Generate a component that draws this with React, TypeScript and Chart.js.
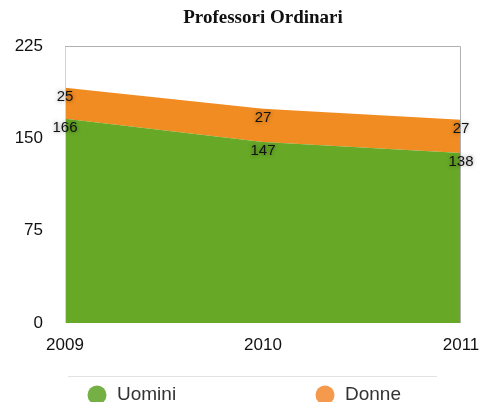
import React, { useEffect, useRef } from "react";
import { Chart, registerables } from "chart.js";
Chart.register(...registerables);

const title = "Professori Ordinari";
const categories = ["2009", "2010", "2011"];
const uomini = [166, 147, 138];
const donne = [25, 27, 27];
const seriesNames = ["Uomini", "Donne"];
const fillColors = ["#67a827", "#f18c22"];
const legendColors = ["#74b043", "#f59a4c"];
const yMin = 0;
const yMax = 225;
const yStep = 75;

const SANS = "'Liberation Sans', Arial, Helvetica, sans-serif";

const boxPlugin = {
  id: "boxPlugin",
  afterDatasetsDraw(chart: any) {
    const { ctx, chartArea: a } = chart;
    ctx.save();
    ctx.strokeStyle = "#d4d4d4";
    ctx.lineWidth = 1;
    ctx.beginPath();
    ctx.moveTo(a.left + 0.5, a.bottom);
    ctx.lineTo(a.left + 0.5, a.top + 0.5);
    ctx.stroke();
    ctx.strokeStyle = "#b0b0b0";
    ctx.beginPath();
    ctx.moveTo(a.left, a.top + 0.5);
    ctx.lineTo(a.right - 0.5, a.top + 0.5);
    ctx.lineTo(a.right - 0.5, a.bottom);
    ctx.stroke();
    ctx.restore();
  },
};

const labelPlugin = {
  id: "labelPlugin",
  afterDatasetsDraw(chart: any) {
    const { ctx } = chart;
    ctx.save();
    ctx.font = `15px ${SANS}`;
    ctx.textAlign = "center";
    ctx.textBaseline = "middle";
    chart.data.datasets.forEach((ds: any, di: number) => {
      const meta = chart.getDatasetMeta(di);
      meta.data.forEach((pt: any, i: number) => {
        ctx.shadowColor = "rgba(0,0,0,0.45)";
        ctx.shadowBlur = 4;
        ctx.fillStyle = "#111";
        ctx.fillText(String(ds.data[i]), pt.x, pt.y + 9);
      });
    });
    ctx.restore();
  },
};

const titlePlugin = {
  id: "titlePlugin",
  afterDraw(chart: any) {
    const { ctx, chartArea: a } = chart;
    ctx.save();
    ctx.font = `bold 19px 'Liberation Serif', 'Times New Roman', serif`;
    ctx.fillStyle = "#111";
    ctx.textAlign = "center";
    ctx.textBaseline = "middle";
    ctx.fillText(title, (a.left + a.right) / 2, 18);
    ctx.restore();
  },
};

const legendPlugin = {
  id: "legendPlugin",
  afterDraw(chart: any) {
    const { ctx } = chart;
    ctx.save();
    ctx.strokeStyle = "#e2e2e2";
    ctx.lineWidth = 1;
    ctx.beginPath();
    ctx.moveTo(68, 376.5);
    ctx.lineTo(437, 376.5);
    ctx.stroke();
    const xs = [97, 325];
    ctx.font = `19px ${SANS}`;
    ctx.textBaseline = "middle";
    ctx.textAlign = "left";
    seriesNames.forEach((name, i) => {
      ctx.fillStyle = legendColors[i];
      ctx.beginPath();
      ctx.arc(xs[i], 395, 9.5, 0, Math.PI * 2);
      ctx.fill();
      ctx.fillStyle = "#333";
      ctx.fillText(name, xs[i] + 20, 395);
    });
    ctx.restore();
  },
};

export default function App() {
  const ref = useRef<HTMLCanvasElement | null>(null);
  useEffect(() => {
    if (!ref.current) return;
    const chart = new Chart(ref.current, {
      type: "line",
      data: {
        labels: categories,
        datasets: [
          {
            label: seriesNames[0],
            data: uomini,
            backgroundColor: fillColors[0],
            borderWidth: 0,
            pointRadius: 0,
            fill: "origin",
            tension: 0,
          },
          {
            label: seriesNames[1],
            data: donne,
            backgroundColor: fillColors[1],
            borderWidth: 0,
            pointRadius: 0,
            fill: "-1",
            tension: 0,
          },
        ],
      },
      options: {
        responsive: false,
        animation: false,
        layout: { padding: { top: 46, right: 19, left: 0, bottom: 0 } },
        plugins: {
          legend: { display: false },
          title: { display: false },
          tooltip: { enabled: false },
        },
        scales: {
          x: {
            offset: false,
            grid: { display: false, drawTicks: false },
            border: { display: false },
            ticks: {
              padding: 12,
              maxRotation: 0,
              autoSkip: false,
              color: "#111",
              font: { family: SANS, size: 17 },
            },
            afterFit: (s: any) => {
              s.height = 79;
              s.paddingLeft = 0;
              s.paddingRight = 0;
            },
          },
          y: {
            stacked: true,
            min: yMin,
            max: yMax,
            grid: { display: false, drawTicks: false },
            border: { display: false },
            ticks: {
              stepSize: yStep,
              padding: 22,
              color: "#111",
              font: { family: SANS, size: 17 },
            },
            afterFit: (s: any) => {
              s.width = 65;
            },
          },
        },
      },
      plugins: [boxPlugin, labelPlugin, titlePlugin, legendPlugin],
    });
    return () => chart.destroy();
  }, []);
  return (
    <div style={{ position: "absolute", left: 0, top: 0, width: 480, height: 402, background: "#fff" }}>
      <canvas ref={ref} width={480} height={402} />
    </div>
  );
}
